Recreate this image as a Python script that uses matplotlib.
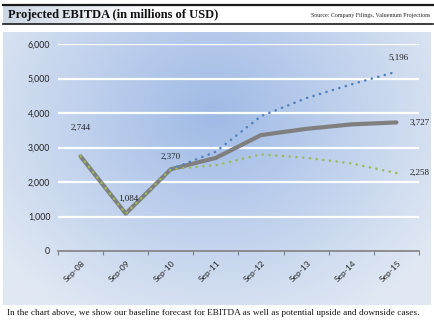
import numpy as np
import matplotlib
matplotlib.use("Agg")
import matplotlib.pyplot as plt
from matplotlib.lines import Line2D

# ---- data ----
categories = ["Sep-08", "Sep-09", "Sep-10", "Sep-11", "Sep-12", "Sep-13", "Sep-14", "Sep-15"]
baseline = [2744, 1084, 2370, 2700, 3360, 3540, 3670, 3727]
upside = [None, None, 2370, 2880, 3910, 4430, 4830, 5196]
downside = [2744, 1084, 2370, 2490, 2800, 2700, 2540, 2258]
yticks = [0, 1000, 2000, 3000, 4000, 5000, 6000]

title = "Projected EBITDA (in millions of USD)"
source = "Source: Company Filings, Valuentum Projections"
caption = "In the chart above, we show our baseline forecast for EBITDA as well as potential upside and downside cases."

W, H = 435, 321
fig = plt.figure(figsize=(W / 100, H / 100), dpi=100)
fig.patch.set_facecolor("white")

def fx(px):
    return px / W

def fy(py):
    return 1 - py / H

# header title box with gradient
hdr = fig.add_axes([fx(3), fy(24), fx(430), fy(5) - fy(24)])
hdr.set_xlim(0, 1); hdr.set_ylim(0, 1); hdr.axis("off")
g = np.linspace(0, 1, 256)[None, :]
c0 = np.array([0.80, 0.84, 0.90]); c1 = np.array([1.0, 1.0, 1.0])
t = np.clip(g / 0.35, 0, 1)[..., None]
img = c0 * (1 - t) + c1 * t
hdr.imshow(img, extent=[0, 1, 0, 1], aspect="auto", zorder=0)
fig.add_artist(Line2D([fx(3), fx(433)], [fy(5), fy(5)], color="#1a1a1a", lw=1.6))
fig.add_artist(Line2D([fx(3), fx(433)], [fy(24), fy(24)], color="#1a1a1a", lw=1.2))
fig.text(fx(8), fy(15), title, fontsize=9, fontweight="bold", family="Liberation Serif",
         va="center", ha="left", color="#111111")
fig.text(fx(431), fy(16), source, fontsize=4.3, family="Liberation Serif",
         va="center", ha="right", color="#222222")

# chart panel with radial gradient
pan = fig.add_axes([fx(3), fy(305), fx(428), fy(32) - fy(305)])
pan.axis("off")
ny, nx = 200, 300
yy, xx = np.mgrid[0:ny, 0:nx]
cx, cy = 0.49 * nx, 0.30 * ny
d = np.sqrt(((xx - cx) / (0.62 * nx)) ** 2 + ((yy - cy) / (0.85 * ny)) ** 2)
d = np.clip(d, 0, 1)[..., None]
dark = np.array([0x9f, 0xba, 0xe6]) / 255
light = np.array([0xe0, 0xe8, 0xf3]) / 255
grad = dark * (1 - d) + light * d
pan.imshow(grad, extent=[0, 1, 0, 1], aspect="auto", origin="upper")
pan.set_xlim(0, 1); pan.set_ylim(0, 1)

# plot axes
ax = fig.add_axes([fx(58), fy(251), fx(419) - fx(58), fy(44) - fy(251)])
ax.patch.set_alpha(0)
x = np.arange(len(categories))
ax.set_xlim(-0.5, len(categories) - 0.5)
ax.set_ylim(0, 6000)
ax.set_yticks(yticks)
ax.set_yticklabels([f"{v:,}" for v in yticks], family="Lato", fontsize=6.3, color="#222222")
ax.tick_params(axis="y", length=0, pad=5.5)
for v in yticks[1:]:
    ax.axhline(v, color="white", lw=1.6, zorder=1)
ax.set_xticks(np.arange(len(categories) + 1) - 0.5)
ax.set_xticklabels([])
ax.tick_params(axis="x", length=3, color="#808080", width=0.8)
for i, c in enumerate(categories):
    ax.text(i + 0.02, -230, c, rotation=45, ha="right", va="top", fontsize=6,
            family="Lato", color="#222222", rotation_mode="anchor")
for s in ["top", "right", "left"]:
    ax.spines[s].set_visible(False)
ax.spines["bottom"].set_color("#808080")
ax.spines["bottom"].set_linewidth(1.2)

up = np.array([np.nan if v is None else v for v in upside], dtype=float)
ax.plot(x, baseline, color="#7f7f7f", lw=3.0, zorder=3, solid_capstyle="round")
ax.plot(x, up, color="#4f81bd", lw=1.8, ls=(0, (0.1, 2.6)), dash_capstyle="round", zorder=4)
ax.plot(x, downside, color="#9bbb59", lw=1.8, ls=(0, (0.1, 2.6)), dash_capstyle="round", zorder=5)

lab = dict(fontsize=6.5, family="Liberation Serif", color="#222222", zorder=6)
ax.text(0, baseline[0] + 700, f"{baseline[0]:,}", ha="center", va="bottom", **lab)
ax.text(1.05, baseline[1] + 300, f"{baseline[1]:,}", ha="center", va="bottom", **lab)
ax.text(2.0, baseline[2] + 250, f"{baseline[2]:,}", ha="center", va="bottom", **lab)
ax.text(7.05, upside[7] + 280, f"{upside[7]:,}", ha="center", va="bottom", **lab)
ax.text(7.3, baseline[7], f"{baseline[7]:,}", ha="left", va="center", **lab)
ax.text(7.3, downside[7], f"{downside[7]:,}", ha="left", va="center", **lab)

fig.text(fx(7), fy(313), caption, fontsize=6.65, family="Liberation Serif",
         ha="left", va="center", color="#111111")

fig.savefig("out.png", dpi=100)
